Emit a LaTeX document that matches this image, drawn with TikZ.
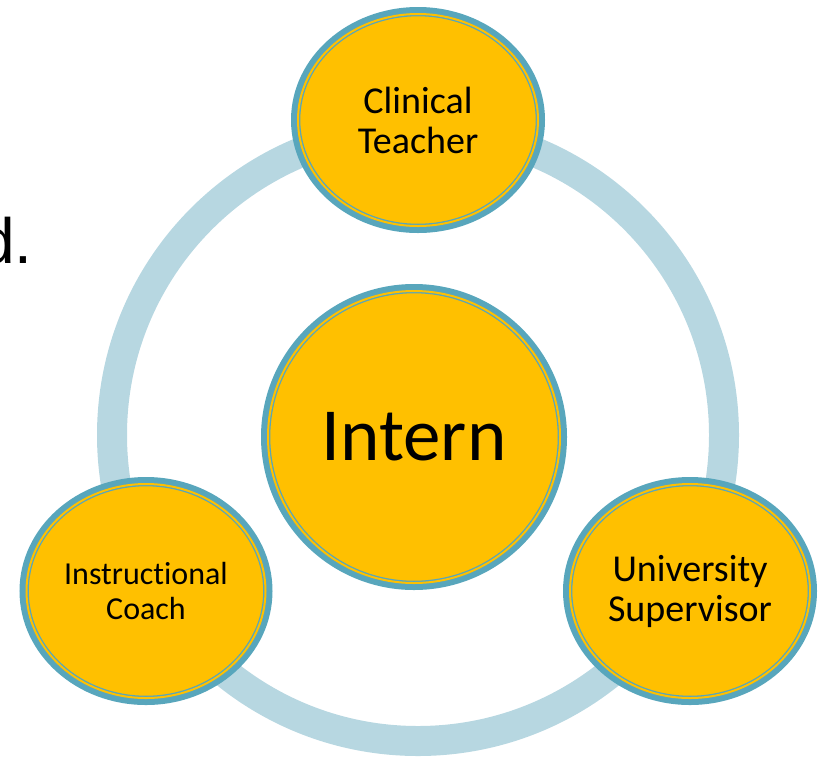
\documentclass[tikz,border=0pt]{standalone}
\usepackage{fontspec}
\setmainfont{Carlito}[Ligatures={NoCommon,NoDiscretionary,NoRare}]
\newfontfamily\slidefont{Liberation Sans}
\usetikzlibrary{
	shapes.geometric,
	calc
}
\definecolor{roleedge}{RGB}{88,166,188}
\definecolor{ringband}{RGB}{183,215,225}
\definecolor{rolefill}{RGB}{255,192,0}
\tikzset{
	role/.style={
		ellipse,
		inner sep=0pt,
		fill=rolefill,
		draw=roleedge,
		line width=1.3pt,
		double=rolefill,
		double distance=2pt,
		preaction={draw=roleedge, line width=14pt},
		align=center,
		text=black
	},
	role text/.style={
		font=\fontsize{38}{40}\selectfont
	},
	cycle ring/.style={
		draw=ringband,
		line width=30pt
	}
}

\begin{document}
\begin{tikzpicture}[x=1pt,y=-1pt] %%%%%%%% TRIAD
		\useasboundingbox (0,0) rectangle (821,756);
		\coordinate (hub) at (418,435);
		\draw [cycle ring] (hub) circle [radius=306pt];
		% leftover text from the slide
		\node [anchor=base west, inner sep=0pt, font=\slidefont\fontsize{64}{70}\selectfont] (slidetext) at (-21,263) {d.};
		\node [role, minimum width=240pt, minimum height=212pt, role text] (clinical) at (418,120) {Clinical\\Teacher};
		\node [role, minimum width=239pt, minimum height=214pt, font=\fontsize{32}{35}\selectfont] (coach) at (146,591) {Instructional\\Coach};
		\node [role, minimum width=240pt, minimum height=214pt, role text] (supervisor) at (690,591) {University\\Supervisor};
		\node [role, minimum width=292pt, minimum height=292pt, font=\fontsize{75}{80}\selectfont] (intern) at (414,437) {Intern};
	\end{tikzpicture}
\end{document}
